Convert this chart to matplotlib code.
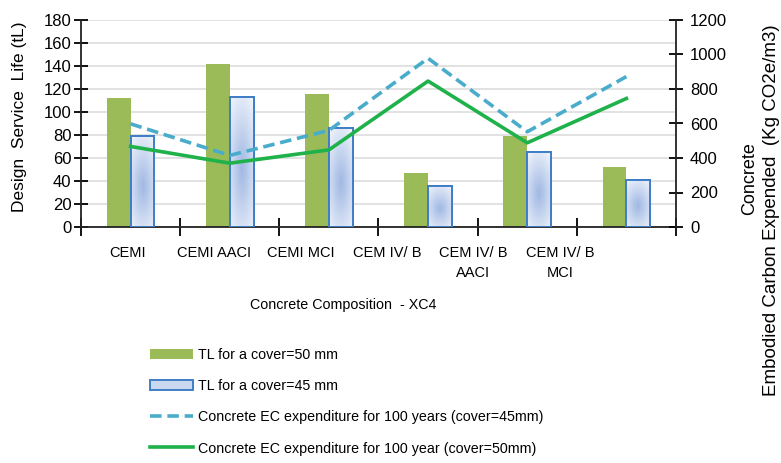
import numpy as np
import matplotlib
matplotlib.use("Agg")
import matplotlib.pyplot as plt
from matplotlib.colors import LinearSegmentedColormap

plt.rcParams["font.family"] = ["Liberation Sans", "DejaVu Sans"]

# data
categories = ["CEMI", "CEMI AACI", "CEMI MCI", "CEM IV/ B", "CEM IV/ B\nAACI", "CEM IV/ B\nMCI"]
tl_cover50 = [112, 142, 116, 47, 79, 52]
tl_cover45 = [79, 113, 86, 36, 65, 41]
ec_cover45 = [598, 415, 560, 978, 552, 872]
ec_cover50 = [467, 370, 447, 846, 488, 745]

green = "#9bbb59"
blue_edge = "#3f7ec6"
dash_col = "#4aaccb"
solid_col = "#1fb14a"

W, H = 781, 463
fig = plt.figure(figsize=(W / 100, H / 100), dpi=100)
ax = fig.add_axes([81 / W, (H - 227) / H, (676 - 81) / W, (227 - 20) / H])
ax2 = ax.twinx()

x = np.arange(len(categories))
bw = 0.24

bars50 = ax.bar(x - bw / 2, tl_cover50, bw, color=green, zorder=2,
                label="TL for a cover=50 mm")
bars45 = ax.bar(x + bw / 2, tl_cover45, bw, facecolor="#c9d7ef", edgecolor=blue_edge,
                linewidth=1.4, zorder=2, label="TL for a cover=45 mm")

# soft gradient fill inside the blue bars, outline drawn again on top
cmap = LinearSegmentedColormap.from_list("bl", ["#eef3fb", "#a3bae4"])
gy, gx = np.mgrid[0:1:60j, 0:1:20j]
grad = 1 - np.clip(np.sqrt(((gx - 0.5) / 0.8) ** 2 + ((gy - 0.45) / 0.65) ** 2), 0, 1)
for b in bars45:
    im = ax.imshow(grad, cmap=cmap, aspect="auto", origin="lower", zorder=2.5,
                   extent=(b.get_x(), b.get_x() + b.get_width(), 0, b.get_height()))
    im.set_clip_path(b)
ax.bar(x + bw / 2, tl_cover45, bw, facecolor="none", edgecolor=blue_edge,
       linewidth=1.4, zorder=3)

ax2.plot(x, ec_cover45, color=dash_col, lw=2.6, dashes=(3.2, 1.6),
         label="Concrete EC expenditure for 100 years (cover=45mm)")
ax2.plot(x, ec_cover50, color=solid_col, lw=2.6,
         label="Concrete EC expenditure for 100 year (cover=50mm)")

ax.set_xlim(-0.5, len(categories) - 0.5)
ax.set_ylim(0, 180)
ax.set_yticks(range(0, 181, 20))
ax2.set_ylim(0, 1200)
ax2.set_yticks(range(0, 1201, 200))

ax.set_axisbelow(True)
ax.yaxis.grid(True, color="#dadada", lw=1.1)

for s in ["top", "right"]:
    ax.spines[s].set_visible(False)
for s in ["top", "left", "bottom"]:
    ax2.spines[s].set_visible(False)
for sp in [ax.spines["left"], ax.spines["bottom"], ax2.spines["right"]]:
    sp.set_linewidth(1.3)
    sp.set_color("#222222")

ax.tick_params(axis="y", direction="inout", length=10, width=1.3, labelsize=12, pad=2)
ax2.tick_params(axis="y", direction="inout", length=10, width=1.3, labelsize=12, pad=5)

# ticks at category boundaries, labels placed separately (they sit a bit compressed)
ax.set_xticks(np.arange(-0.5, len(categories)))
ax.set_xticklabels([])
ax.tick_params(axis="x", direction="inout", length=13, width=1.3)
for i, lab in enumerate(categories):
    ax.text(-0.03 + 0.872 * i, -0.09, lab, transform=ax.get_xaxis_transform(),
            ha="center", va="top", fontsize=10.5, linespacing=1.6)

fig.text(343 / W, 1 - 305 / H, "Concrete Composition  - XC4", ha="center", va="center",
         fontsize=10.3)
fig.text(20 / W, 1 - 117 / H, "Design  Service  Life (tL)", rotation=90,
         ha="center", va="center", fontsize=12.5)
fig.text(750 / W, 1 - 179 / H, "Concrete", rotation=90, ha="center", va="center",
         fontsize=13)
fig.text(771 / W, 1 - 210 / H, "Embodied Carbon Expended  (Kg CO2e/m3)", rotation=90,
         ha="center", va="center", fontsize=13.5)

handles = [bars50, bars45] + ax2.get_lines()
labels = [h.get_label() for h in handles]
fig.legend(handles, labels, loc="upper left", bbox_to_anchor=(150 / W, 1 - 348 / H),
           frameon=False, fontsize=10.3, handlelength=3.0, handletextpad=0.35,
           labelspacing=1.2, borderpad=0, borderaxespad=0)

fig.savefig("out.png", dpi=100)
